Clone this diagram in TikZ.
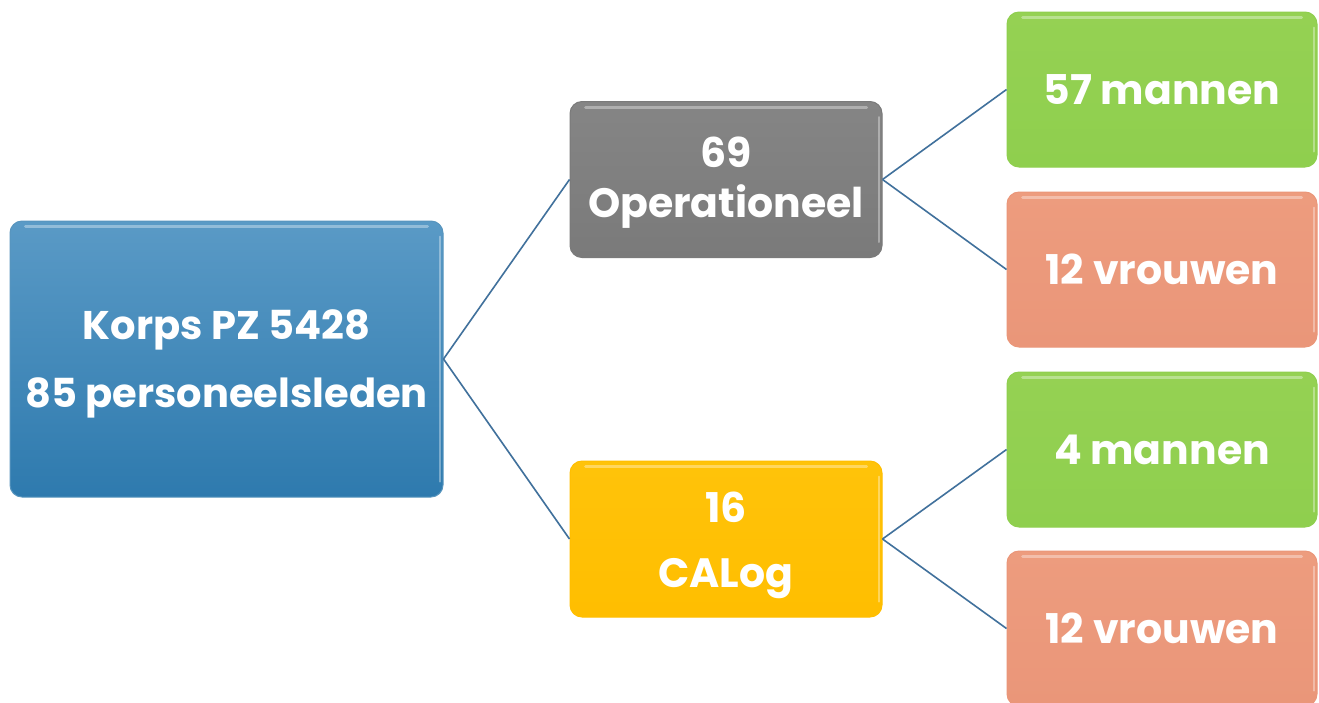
\documentclass[tikz,border=0pt]{standalone}
\usepackage{fontspec}
\setmainfont{Poppins}
\begin{document}
\begin{tikzpicture}[x=1pt,y=-1pt,
  box/.style={rectangle, rounded corners=12pt, inner sep=0pt, line width=1pt},
  txt/.style={align=center, text=white, inner sep=0pt},
  rootbox/.style={box, minimum width=433pt, minimum height=276pt,
    top color=blueT, bottom color=blueB, draw=blueB!80!white},
  midbox/.style={box, minimum width=312pt, minimum height=156pt},
  leafbox/.style={box, minimum width=310pt, minimum height=155pt, align=center,
    text=white, font=\bfseries\fontsize{41}{48}\selectfont},
  graybox/.style={midbox, top color=grayT, bottom color=grayB, draw=grayB},
  yellowbox/.style={midbox, top color=yelT, bottom color=yelB, draw=yelB},
  greenbox/.style={leafbox, top color=grnT, bottom color=grnB, draw=grnB},
  salmonbox/.style={leafbox, top color=salT, bottom color=salB, draw=salB},
  hl/.style={draw=white, opacity=0.35, line width=3pt, line cap=round},
  link/.style={draw=linkc, line width=1.6pt}
]
\definecolor{blueT}{HTML}{5A9AC6}
\definecolor{blueB}{HTML}{2E7AAE}
\definecolor{grayT}{HTML}{858585}
\definecolor{grayB}{HTML}{7A7A7A}
\definecolor{yelT}{HTML}{FFC30A}
\definecolor{yelB}{HTML}{FFBE00}
\definecolor{grnT}{HTML}{95D153}
\definecolor{grnB}{HTML}{8FCF4E}
\definecolor{salT}{HTML}{ED9C7E}
\definecolor{salB}{HTML}{EA9679}
\definecolor{linkc}{HTML}{41719C}
\useasboundingbox (0,0) rectangle (1319,702);
\fill[white] (0,0) rectangle (1319,702);

\node[rootbox, label={[txt, yshift=-5pt, font=\bfseries\fontsize{40}{68}\selectfont]center:Korps PZ 5428\\85 personeelsleden}] (root) at (226.5,359) {};
\node[graybox, label={[txt, yshift=-3pt, font=\bfseries\fontsize{41}{50}\selectfont]center:69\\Operationeel}] (op) at (726,179.5) {};
\node[yellowbox, label={[txt, yshift=-6pt, font=\bfseries\fontsize{41}{65}\selectfont]center:16\\CALog}] (ca) at (726,539) {};
\node[greenbox] (m1) at (1162,89.5) {57 mannen};
\node[salmonbox] (v1) at (1162,269.5) {12 vrouwen};
\node[greenbox] (m2) at (1162,449.5) {4 mannen};
\node[salmonbox] (v2) at (1162,628.5) {12 vrouwen};

\foreach \n in {root,op,ca,m1,v1,m2,v2}{
  \draw[hl] ([xshift=16pt,yshift=-6pt]\n.north west) -- ([xshift=-16pt,yshift=-6pt]\n.north east);
  \draw[hl, line width=2pt] ([xshift=-4pt,yshift=-16pt]\n.north east) -- ([xshift=-4pt,yshift=16pt]\n.south east);
}

\draw[link] (root.east) -- (op.west);
\draw[link] (root.east) -- (ca.west);
\draw[link] (op.east) -- (m1.west);
\draw[link] (op.east) -- (v1.west);
\draw[link] (ca.east) -- (m2.west);
\draw[link] (ca.east) -- (v2.west);
\end{tikzpicture}
\end{document}
